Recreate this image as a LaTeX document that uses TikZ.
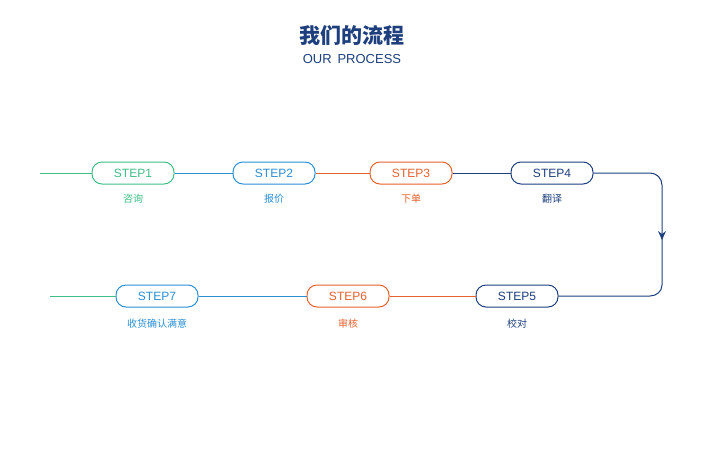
\documentclass[tikz,border=0pt]{standalone}
\usepackage{fontspec}
\setmainfont{Liberation Sans}
\newfontfamily\cjk{Noto Sans CJK SC}
\begin{document}
\begin{tikzpicture}[x=1pt,y=-1pt,
  st/.style={draw=#1,text=#1,rounded corners=10pt,minimum width=82pt,minimum height=22pt,line width=1pt,font=\fontsize{12}{12}\selectfont,fill=white},
  lb/.style={text=#1,font=\cjk\fontsize{10}{10}\selectfont},
  ln/.style={draw=#1,line width=1pt}]
\definecolor{cg}{HTML}{3DBF86}\definecolor{cb}{HTML}{2A8FD6}
\definecolor{co}{HTML}{E8602C}\definecolor{cn}{HTML}{1D3F7D}
\useasboundingbox (0,0) rectangle (720,450);
\node[text=cn,font=\cjk\bfseries\fontsize{21}{21}\selectfont] (t) at (352,36) {我们的流程};
\node[text=cn,font=\fontsize{13}{13}\selectfont] (t2) at (352,59) {OUR\,  PROCESS};
\node[st=cg] (s1) at (133,173) {STEP1};
\node[st=cb] (s2) at (274,173) {STEP2};
\node[st=co] (s3) at (411,173) {STEP3};
\node[st=cn] (s4) at (552,173) {STEP4};
\node[st=cn] (s5) at (517,296) {STEP5};
\node[st=co] (s6) at (348,296) {STEP6};
\node[st=cb] (s7) at (157,296) {STEP7};
\node[lb=cg] (l1) at (133,199) {咨询};
\node[lb=cb] (l2) at (274,199) {报价};
\node[lb=co] (l3) at (411,199) {下单};
\node[lb=cn] (l4) at (552,199) {翻译};
\node[lb=cn] (l5) at (517,324) {校对};
\node[lb=co] (l6) at (348,324) {审核};
\node[lb=cb] (l7) at (157,324) {收货确认满意};
\coordinate (a) at (40,173); \coordinate (b) at (50,296);
\coordinate (ar) at (662,240);
\draw[ln=cg] (a) -- (s1);
\draw[ln=cb] (s1) -- (s2);
\draw[ln=co] (s2) -- (s3);
\draw[ln=cn] (s3) -- (s4);
\draw[ln=cn] (s4.east) -- (650,173) to[out=0,in=90] (662,185) -- (662,285) to[out=-90,in=0] (650,296) -- (s5.east);
\fill[cn] (ar) -- (658,231) -- (662,234) -- (666,231) -- cycle;
\draw[ln=co] (s5) -- (s6);
\draw[ln=cb] (s6) -- (s7);
\draw[ln=cg] (s7) -- (b);
\end{tikzpicture}
\end{document}
